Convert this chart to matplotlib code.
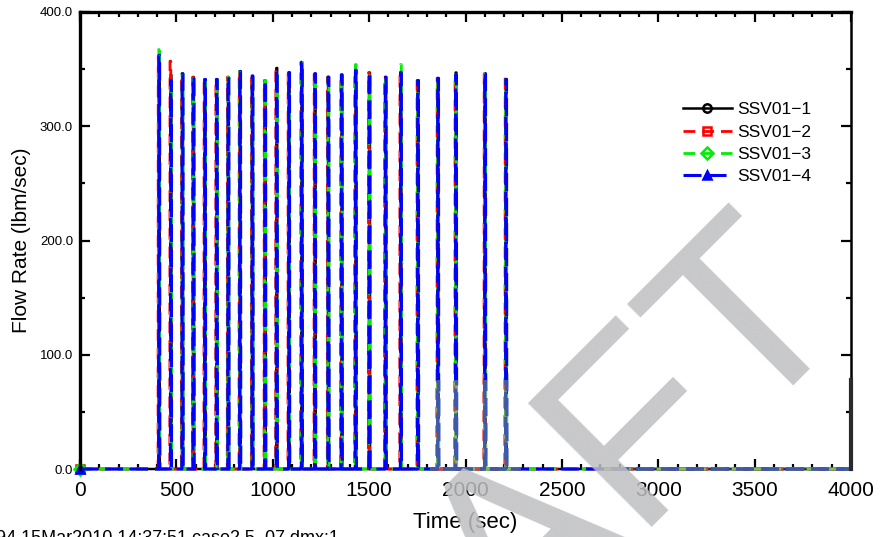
import numpy as np
import matplotlib
matplotlib.use('Agg')
import matplotlib.pyplot as plt
from matplotlib.legend_handler import HandlerLine2D
from matplotlib.patches import Rectangle
from matplotlib.ticker import MultipleLocator, FormatStrFormatter

plt.rcParams['font.family'] = ['Liberation Sans', 'DejaVu Sans']
plt.rcParams['lines.scale_dashes'] = False

# valve opening times (sec) and peak flow of each cycle (lbm/sec)
pulse_times = [408, 469, 529, 586, 646, 707, 767, 828, 892, 958, 1018, 1082, 1148,
               1217, 1286, 1355, 1428, 1499, 1583, 1662, 1751, 1855, 1948, 2099, 2208]
ssv1_peaks = [361, 345, 346, 343, 341, 341, 343, 348, 344, 340, 351, 347, 356,
              346, 343, 345, 349, 347, 343, 347, 340, 342, 347, 346, 341]
ssv2_peaks = [361, 357, 346, 343, 341, 341, 343, 348, 344, 340, 349, 347, 356,
              346, 343, 345, 349, 347, 343, 347, 340, 342, 345, 346, 345]
ssv3_peaks = [370, 341, 346, 343, 341, 341, 343, 348, 344, 340, 349, 347, 356,
              346, 343, 345, 354, 347, 343, 354, 340, 342, 345, 346, 341]
ssv4_peaks = [362, 340, 346, 343, 341, 341, 343, 348, 344, 340, 349, 347, 356,
              346, 343, 345, 349, 347, 343, 347, 340, 342, 345, 346, 341]
labels = ['SSV01\u22121', 'SSV01\u22122', 'SSV01\u22123', 'SSV01\u22124']
t_end = 4000


def build(peaks, shift=0.0):
    t, v = [0.0], [0.0]
    for t0, p in zip(pulse_times, peaks):
        t0 = t0 + shift
        t += [t0, t0 + 1, t0 + 5, t0 + 6]
        v += [0, p, p, 0]
    t.append(t_end)
    v.append(0)
    return np.array(t), np.array(v)


styles = [
    dict(color='black', lw=1.8, ls='-', marker='o', mfc='none', mec='black'),
    dict(color='red', lw=2.0, dashes=(8.5, 5), marker='s', mfc='none', mec='red'),
    dict(color='#00ee00', lw=2.0, dashes=(8.5, 5), marker='D', mfc='none', mec='#00ee00'),
    dict(color='blue', lw=2.2, dashes=(13, 5), marker='^', mfc='blue', mec='blue'),
]
tints = ['#333333', '#c84848', '#74c35a', '#3d59a8']
shifts = [0, -3, 0, 0]
series = [build(p, s) for p, s in zip([ssv1_peaks, ssv2_peaks, ssv3_peaks, ssv4_peaks], shifts)]

fig = plt.figure(figsize=(8.81, 5.37), dpi=100)
ax = fig.add_axes([80 / 881, 1 - 469 / 537, 771 / 881, 457 / 537])

handles = []
for (t, v), st, lab in zip(series, styles, labels):
    ln, = ax.plot(t, v, label=lab, markevery=[0], ms=6, mew=1.8, clip_on=False, **st)
    handles.append(ln)

# shaded band over the lower right part of the traces
for x0, x1 in [(1815, 2290), (2720, 4000)]:
    clip = Rectangle((x0, -6), x1 - x0, 84, transform=ax.transData)
    for (t, v), st, c in zip(series, styles, tints):
        kw = {k: st[k] for k in ('lw', 'ls', 'dashes') if k in st}
        ln, = ax.plot(t, v, color=c, clip_on=True, **kw)
        ln.set_clip_path(clip)
ax.plot([t_end, t_end], [0, 78], color='#2a2a2a', lw=3, clip_on=False, zorder=3)

ax.set_xlim(0, 4000)
ax.set_ylim(0, 400)
ax.xaxis.set_major_locator(MultipleLocator(500))
ax.xaxis.set_minor_locator(MultipleLocator(100))
ax.yaxis.set_major_locator(MultipleLocator(100))
ax.yaxis.set_minor_locator(MultipleLocator(50))
ax.yaxis.set_major_formatter(FormatStrFormatter('%.1f'))
ax.tick_params(which='both', direction='in', top=True, right=True, width=1.6, color='black')
ax.tick_params(which='major', length=7)
ax.tick_params(which='minor', length=3.5)
ax.tick_params(axis='x', labelsize=15, pad=9)
ax.tick_params(axis='y', labelsize=9.5, pad=5)

for side in ['left', 'top']:
    ax.spines[side].set_linewidth(2.4)
ax.spines['right'].set_linewidth(1.8)
ax.spines['bottom'].set_visible(False)

ax.set_xlabel('Time (sec)', fontsize=16, labelpad=8)
ax.set_ylabel('Flow Rate (lbm/sec)', fontsize=15, labelpad=6)


class EndMarkerHandler(HandlerLine2D):
    # put the legend marker at the right end of the sample line
    def get_xdata(self, legend, xdescent, ydescent, width, height, fontsize):
        xdata, _ = super().get_xdata(legend, xdescent, ydescent, width, height, fontsize)
        return xdata, np.array([xdata[-1] - 3])


ax.legend(handles=handles, loc='upper left', bbox_to_anchor=(683 / 881, 1 - 102 / 537),
          bbox_transform=fig.transFigure, frameon=False, fontsize=12.5,
          handlelength=2.8, handletextpad=0.3, labelspacing=0.42, borderpad=0,
          borderaxespad=0, handler_map={h: EndMarkerHandler() for h in handles})

# watermark
fig.text(505 / 881, 1 - 560 / 537, 'DRAFT', fontsize=183, rotation=45,
         rotation_mode='anchor', ha='center', va='center',
         color='#bebfc1', alpha=0.85, zorder=10)

# run stamp
fig.text(-4 / 881, 1 - 543 / 537, '94 15Mar2010 14:37:51 case2.5_07.dmx:1',
         fontsize=13, ha='left', va='baseline')

fig.savefig('out.png', dpi=100)
